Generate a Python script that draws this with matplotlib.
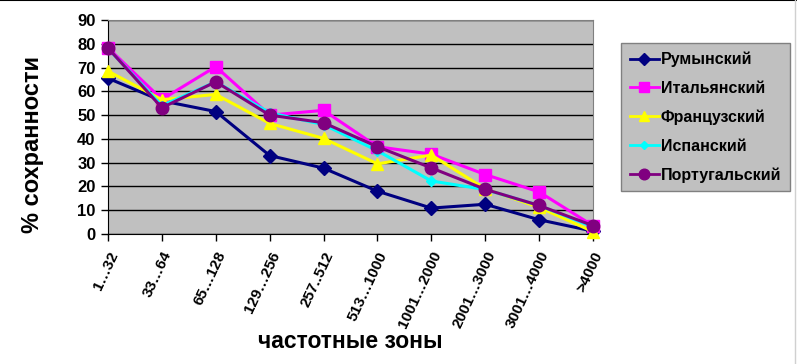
import matplotlib.pyplot as plt
from matplotlib.lines import Line2D

# categories and series values
zones = ["1…32", "33…64", "65…128", "129…256", "257..512", "513…1000",
         "1001…2000", "2001…3000", "3001…4000", ">4000"]

romanian = [65.5, 56, 51.5, 33, 27.7, 18, 10.9, 12.5, 6, 1.2]
italian = [78.3, 56.6, 70.4, 50, 52, 36.7, 33.6, 25, 17.7, 3.5]
french = [68.5, 56.5, 58.7, 46.5, 40.2, 29.5, 33.2, 19, 11.2, 1]
spanish = [78, 54, 64, 51, 46, 35, 22.3, 18.7, 12, 3]
portuguese = [78.2, 53.1, 64, 50, 46.8, 36.7, 27.8, 18.8, 12, 3.5]

series = [
    ("Румынский", romanian, "#000080", "D", 7),
    ("Итальянский", italian, "#FF00FF", "s", 8),
    ("Французский", french, "#FFFF00", "^", 9),
    ("Испанский", spanish, "#00FFFF", "D", 5),
    ("Португальский", portuguese, "#800080", "o", 9),
]

plt.rcParams["font.family"] = ["Liberation Sans", "DejaVu Sans"]
plt.rcParams["font.weight"] = "bold"

fig = plt.figure(figsize=(7.97, 3.64), dpi=100)
ax = fig.add_axes([108 / 797, 130 / 364, 485 / 797, 214 / 364])
ax.set_facecolor("#C0C0C0")

x = list(range(len(zones)))
for name, vals, color, marker, ms in series:
    ax.plot(x, vals, color=color, marker=marker, markersize=ms, lw=2.2,
            label=name, clip_on=False, zorder=3)

ax.set_xlim(0, len(zones) - 1)
ax.set_ylim(0, 90)
ax.set_yticks(range(0, 91, 10))
ax.yaxis.grid(True, color="black", lw=1)
ax.set_axisbelow(True)

ax.set_xticks(x)
ax.set_xticklabels(zones, rotation=65, ha="right", va="top",
                   rotation_mode="anchor", fontsize=11, fontweight="bold")
ax.tick_params(axis="x", length=5, width=1, pad=6)
ax.tick_params(axis="y", length=5, width=1, labelsize=12, pad=4)
for lab in ax.get_yticklabels():
    lab.set_fontweight("bold")

for side in ("top", "right"):
    ax.spines[side].set_color("#808080")
for side in ("left", "bottom"):
    ax.spines[side].set_color("black")

fig.text(33 / 797, 1 - 145 / 364, "% сохранности", fontsize=17,
         fontweight="bold", rotation=90, ha="center", va="center")
fig.text(350 / 797, 1 - 342 / 364, "частотные зоны", fontsize=16.5,
         fontweight="bold", ha="center", va="center")

handles = [Line2D([0], [0], color=c, marker=m, markersize=ms * 0.85, lw=2)
           for _, _, c, m, ms in series]
leg = fig.legend(handles, [s[0] for s in series], loc="upper left",
                 bbox_to_anchor=(621 / 797, 1 - 43 / 364), frameon=True,
                 fancybox=False, facecolor="#C0C0C0", edgecolor="#808080",
                 fontsize=11.5, handlelength=1.8, labelspacing=0.85,
                 borderpad=0.55, handletextpad=0.15, borderaxespad=0)
leg.get_frame().set_linewidth(1)
leg.get_frame().set_alpha(1)
for t in leg.get_texts():
    t.set_fontweight("bold")

# black border along top, light grey along right edge
fig.add_artist(Line2D([0, 1], [0.999, 0.999], color="black", lw=1.5,
                      transform=fig.transFigure))
fig.add_artist(Line2D([0.998, 0.998], [0, 1], color="#D0D0D0", lw=1,
                      transform=fig.transFigure))

fig.savefig("out.png", dpi=100)
